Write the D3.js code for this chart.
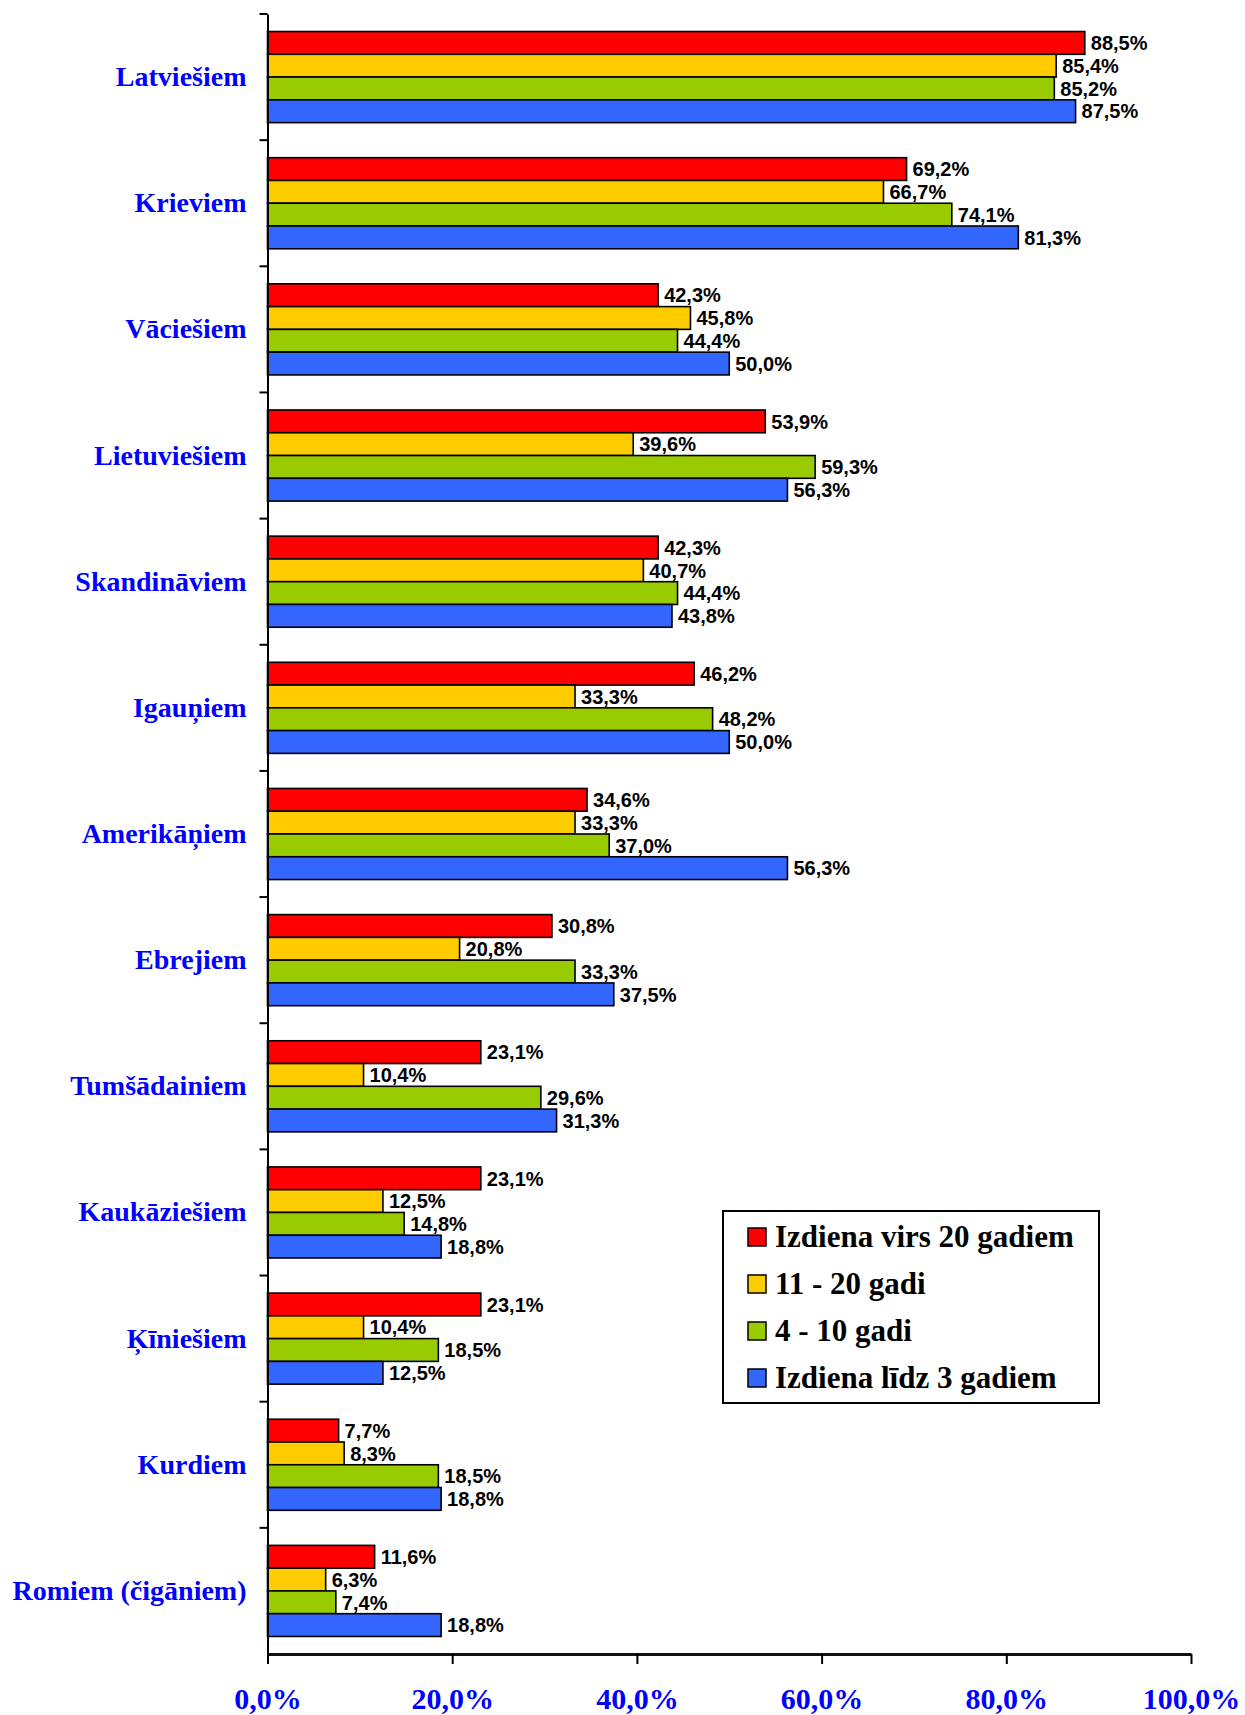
<!DOCTYPE html>
<html>
<head>
<meta charset="utf-8">
<script src="https://cdn.jsdelivr.net/npm/d3@7"></script>
<style>
  body { margin: 0; background: #fff; }
</style>
</head>
<body>
<div id="graph"></div>
<script>
var categories = ["Latviešiem", "Krieviem", "Vāciešiem", "Lietuviešiem", "Skandināviem",
  "Igauņiem", "Amerikāņiem", "Ebrejiem", "Tumšādainiem", "Kaukāziešiem",
  "Ķīniešiem", "Kurdiem", "Romiem (čigāniem)"];

var seriesNames = ["Izdiena virs 20 gadiem", "11 - 20 gadi", "4 - 10 gadi", "Izdiena līdz 3 gadiem"];
var seriesColors = ["#FF0000", "#FFCC00", "#99CC00", "#3366FF"];

var over20 = [88.5, 69.2, 42.3, 53.9, 42.3, 46.2, 34.6, 30.8, 23.1, 23.1, 23.1, 7.7, 11.6];
var from11to20 = [85.4, 66.7, 45.8, 39.6, 40.7, 33.3, 33.3, 20.8, 10.4, 12.5, 10.4, 8.3, 6.3];
var from4to10 = [85.2, 74.1, 44.4, 59.3, 44.4, 48.2, 37.0, 33.3, 29.6, 14.8, 18.5, 18.5, 7.4];
var upTo3 = [87.5, 81.3, 50.0, 56.3, 43.8, 50.0, 56.3, 37.5, 31.3, 18.8, 12.5, 18.8, 18.8];

var xTicks = [0, 20, 40, 60, 80, 100];

var series = [over20, from11to20, from4to10, upTo3];

var margin = {top: 14, right: 54, bottom: 61, left: 267.5};
var width = 1245 - margin.left - margin.right;
var height = 1715 - margin.top - margin.bottom;

var svg = d3.select("#graph")
  .append("svg")
    .attr("width", 1245)
    .attr("height", 1715)
  .append("g")
    .attr("transform", "translate(" + margin.left + "," + margin.top + ")");

var x = d3.scaleLinear()
  .domain([0, 100])
  .range([0, width]);

var y0 = d3.scaleBand()
  .domain(categories)
  .range([0, height]);

var y1 = d3.scaleBand()
  .domain(d3.range(seriesNames.length))
  .range([0, y0.bandwidth()])
  .paddingInner(0)
  .paddingOuter(0.77);

var rows = [];
categories.forEach(function(c, i) {
  series.forEach(function(s, j) {
    rows.push({cat: c, s: j, v: s[i]});
  });
});

// bars
svg.selectAll(".bar")
  .data(rows)
  .enter().append("rect")
    .attr("class", "bar")
    .attr("x", x(0))
    .attr("y", function(d) { return y0(d.cat) + y1(d.s); })
    .attr("width", function(d) { return x(d.v) - x(0); })
    .attr("height", y1.bandwidth())
    .attr("fill", function(d) { return seriesColors[d.s]; })
    .attr("stroke", "#000")
    .attr("stroke-width", 1.6);

// value labels
svg.selectAll(".val")
  .data(rows)
  .enter().append("text")
    .attr("class", "val")
    .attr("x", function(d) { return x(d.v) + 6; })
    .attr("y", function(d) { return y0(d.cat) + y1(d.s) + y1.bandwidth() / 2; })
    .attr("dy", "0.36em")
    .attr("font-family", "Arial, 'Liberation Sans', sans-serif")
    .attr("font-weight", "bold")
    .attr("font-size", "20px")
    .attr("fill", "#000")
    .text(function(d) { return d.v.toFixed(1).replace(".", ",") + "%"; });

// left axis
var yAxis = svg.append("g")
  .call(d3.axisLeft(y0).tickSize(0).tickPadding(21));
yAxis.select(".domain").attr("stroke", "#000").attr("stroke-width", 2);
yAxis.selectAll("text")
  .attr("font-family", "'Times New Roman', 'Liberation Serif', serif")
  .attr("font-weight", "bold")
  .attr("font-size", "28px")
  .attr("fill", "#0000FF");

svg.append("g")
  .selectAll("line")
  .data(categories)
  .enter().append("line")
    .attr("x1", -8)
    .attr("x2", 0)
    .attr("y1", function(d) { return y0(d); })
    .attr("y2", function(d) { return y0(d); })
    .attr("stroke", "#000")
    .attr("stroke-width", 2);

// bottom axis
var xAxis = svg.append("g")
  .attr("transform", "translate(0," + height + ")")
  .call(d3.axisBottom(x)
    .tickValues(xTicks)
    .tickSize(10)
    .tickSizeOuter(0)
    .tickPadding(24)
    .tickFormat(function(d) { return d.toFixed(1).replace(".", ",") + "%"; }));
xAxis.select(".domain").attr("stroke", "#111").attr("stroke-width", 3);
xAxis.selectAll(".tick line").attr("stroke", "#000").attr("stroke-width", 2);
xAxis.selectAll("text")
  .attr("font-family", "'Times New Roman', 'Liberation Serif', serif")
  .attr("font-weight", "bold")
  .attr("font-size", "30px")
  .attr("fill", "#0000FF");

// legend
var legend = svg.append("g")
  .attr("transform", "translate(" + (723 - margin.left) + "," + (1211 - margin.top) + ")");

legend.append("rect")
  .attr("width", 376)
  .attr("height", 192)
  .attr("fill", "#fff")
  .attr("stroke", "#000")
  .attr("stroke-width", 2);

var item = legend.selectAll(".item")
  .data(seriesNames)
  .enter().append("g")
    .attr("class", "item")
    .attr("transform", function(d, i) { return "translate(25," + (17 + i * 47) + ")"; });

item.append("rect")
  .attr("width", 18)
  .attr("height", 18)
  .attr("fill", function(d, i) { return seriesColors[i]; })
  .attr("stroke", "#000")
  .attr("stroke-width", 1.5);

item.append("text")
  .attr("x", 27)
  .attr("y", 19)
  .attr("font-family", "'Times New Roman', 'Liberation Serif', serif")
  .attr("font-weight", "bold")
  .attr("font-size", "31px")
  .attr("fill", "#000")
  .text(function(d) { return d; });
</script>
</body>
</html>
